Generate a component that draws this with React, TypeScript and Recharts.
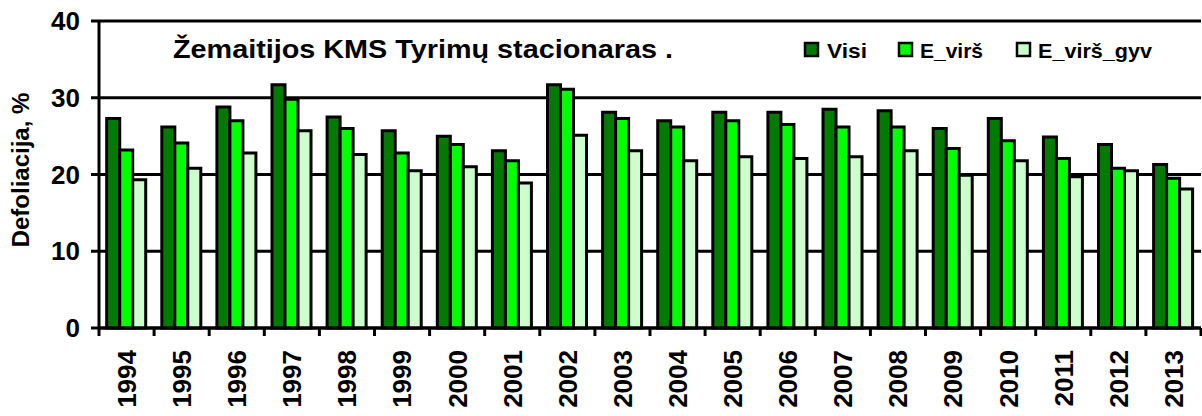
import React from "react";
import { BarChart, Bar, XAxis, YAxis, CartesianGrid } from "recharts";

const years = [
  "1994", "1995", "1996", "1997", "1998", "1999", "2000", "2001", "2002", "2003",
  "2004", "2005", "2006", "2007", "2008", "2009", "2010", "2011", "2012", "2013",
];
const visi = [27.3, 26.2, 28.8, 31.7, 27.5, 25.7, 25.0, 23.1, 31.7, 28.1, 27.0, 28.1, 28.1, 28.5, 28.3, 26.0, 27.3, 24.9, 23.9, 21.3];
const eVirs = [23.2, 24.1, 27.0, 29.8, 26.0, 22.8, 23.9, 21.8, 31.1, 27.3, 26.2, 27.0, 26.5, 26.2, 26.2, 23.4, 24.4, 22.1, 20.8, 19.5];
const eVirsGyv = [19.3, 20.8, 22.8, 25.7, 22.6, 20.5, 21.0, 18.9, 25.1, 23.1, 21.8, 22.3, 22.1, 22.3, 23.1, 19.9, 21.8, 19.7, 20.5, 18.1];
const yTicks = [0, 10, 20, 30, 40];

const title = "Žemaitijos KMS Tyrimų stacionaras .";
const yLabel = "Defoliacija, %";

const series = [
  { key: "visi", name: "Visi", color: "#007A00" },
  { key: "eVirs", name: "E_virš", color: "#00FF00" },
  { key: "eVirsGyv", name: "E_virš_gyv", color: "#CCFFCC" },
];

const data = years.map((year, i) => ({
  year,
  visi: visi[i],
  eVirs: eVirs[i],
  eVirsGyv: eVirsGyv[i],
}));

const FONT = "'Liberation Sans', Arial, sans-serif";
const X_TICK_SIZE = 8;
const X_TICK_MARGIN = 14;

// ticks sit on the category boundaries, labels in the middle
function XTick(props: any) {
  const { x, y, payload, index } = props;
  const half = payload && payload.offset ? payload.offset : 27.55;
  const axisY = y - X_TICK_SIZE - X_TICK_MARGIN;
  return (
    <g>
      <line x1={x - half} x2={x - half} y1={axisY} y2={axisY + X_TICK_SIZE} stroke="#000" strokeWidth={3} />
      {index === years.length - 1 && (
        <line x1={x + half} x2={x + half} y1={axisY} y2={axisY + X_TICK_SIZE} stroke="#000" strokeWidth={3} />
      )}
      <text
        x={x}
        y={y}
        transform={`rotate(-90 ${x} ${y})`}
        textAnchor="end"
        dy="0.36em"
        fontSize={26}
        fontWeight={700}
        fontFamily={FONT}
        fill="#000"
      >
        {payload.value}
      </text>
    </g>
  );
}

const legendPos = [
  { box: 805, text: 827, len: 40 },
  { box: 899, text: 920, len: 63 },
  { box: 1017, text: 1038, len: 114 },
];

export default function App() {
  return (
    <div style={{ position: "absolute", left: 0, top: 0, width: 1202, height: 416, background: "#fff" }}>
      <BarChart
        width={1202}
        height={416}
        data={data}
        margin={{ top: 21, right: 1, bottom: 0, left: 0 }}
        barCategoryGap="14%"
        barGap={0}
      >
        <CartesianGrid vertical={false} stroke="#000" strokeWidth={3} />
        <XAxis
          dataKey="year"
          height={88}
          interval={0}
          tick={<XTick />}
          tickLine={false}
          tickSize={X_TICK_SIZE}
          tickMargin={X_TICK_MARGIN}
          axisLine={{ stroke: "#000", strokeWidth: 3 }}
        />
        <YAxis
          width={99}
          domain={[0, 40]}
          ticks={yTicks}
          interval={0}
          tickSize={8}
          tickMargin={11}
          tickLine={{ stroke: "#000", strokeWidth: 3 }}
          axisLine={{ stroke: "#000", strokeWidth: 3 }}
          tick={{ fontSize: 26, fontWeight: 700, fill: "#000", fontFamily: FONT }}
        />
        {series.map((s) => (
          <Bar
            key={s.key}
            dataKey={s.key}
            name={s.name}
            fill={s.color}
            stroke="#000"
            strokeWidth={3}
            isAnimationActive={false}
          />
        ))}
      </BarChart>
      <svg
        width={1202}
        height={416}
        style={{ position: "absolute", left: 0, top: 0, pointerEvents: "none" }}
      >
        <text
          x={173}
          y={58}
          fontSize={25}
          fontWeight={700}
          fontFamily={FONT}
          fill="#000"
          textLength={500}
          lengthAdjust="spacingAndGlyphs"
        >
          {title}
        </text>
        <text
          x={20}
          y={170}
          transform="rotate(-90 20 170)"
          textAnchor="middle"
          dy="0.36em"
          fontSize={24}
          fontWeight={700}
          fontFamily={FONT}
          fill="#000"
        >
          {yLabel}
        </text>
        {series.map((s, i) => (
          <g key={s.key}>
            <rect x={legendPos[i].box} y={43} width={13} height={13} fill={s.color} stroke="#000" strokeWidth={2.5} />
            <text
              x={legendPos[i].text}
              y={57.5}
              fontSize={21}
              fontWeight={700}
              fontFamily={FONT}
              fill="#000"
              textLength={legendPos[i].len}
              lengthAdjust="spacingAndGlyphs"
            >
              {s.name}
            </text>
          </g>
        ))}
      </svg>
    </div>
  );
}
